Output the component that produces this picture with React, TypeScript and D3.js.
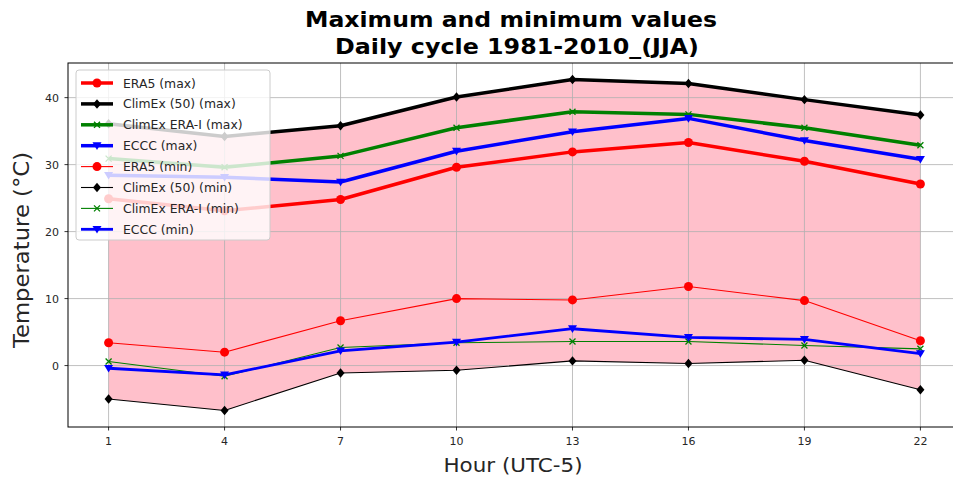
import React from "react";
import * as d3 from "d3";

const hours = [1, 4, 7, 10, 13, 16, 19, 22];
const era5Max = [24.9, 23.1, 24.8, 29.6, 31.9, 33.3, 30.5, 27.1];
const climexMax = [36.1, 34.2, 35.8, 40.1, 42.7, 42.1, 39.7, 37.4];
const eraIMax = [30.9, 29.6, 31.3, 35.5, 37.9, 37.5, 35.5, 32.9];
const ecccMax = [28.4, 28.1, 27.4, 32.0, 34.9, 36.9, 33.6, 30.8];
const era5Min = [3.4, 2.0, 6.7, 10.0, 9.8, 11.8, 9.7, 3.7];
const climexMin = [-5.0, -6.7, -1.1, -0.7, 0.7, 0.3, 0.8, -3.6];
const eraIMin = [0.6, -1.6, 2.7, 3.4, 3.6, 3.6, 3.0, 2.5];
const ecccMin = [-0.4, -1.4, 2.2, 3.5, 5.5, 4.2, 3.9, 1.8];
const xTicks = [1, 4, 7, 10, 13, 16, 19, 22];
const yTicks = [0, 10, 20, 30, 40];

type Series = { name: string; values: number[]; color: string; width: number; marker: string; msize: number };

const series: Series[] = [
  { name: "ERA5 (max)", values: era5Max, color: "#ff0000", width: 3.5, marker: "o", msize: 9 },
  { name: "ClimEx (50) (max)", values: climexMax, color: "#000000", width: 3.5, marker: "D", msize: 9 },
  { name: "ClimEx ERA-I (max)", values: eraIMax, color: "#008000", width: 3.5, marker: "x", msize: 8 },
  { name: "ECCC (max)", values: ecccMax, color: "#0000ff", width: 3.5, marker: "v", msize: 9 },
  { name: "ERA5 (min)", values: era5Min, color: "#ff0000", width: 1.1, marker: "o", msize: 9 },
  { name: "ClimEx (50) (min)", values: climexMin, color: "#000000", width: 1.1, marker: "D", msize: 9 },
  { name: "ClimEx ERA-I (min)", values: eraIMin, color: "#008000", width: 1.1, marker: "x", msize: 8 },
  { name: "ECCC (min)", values: ecccMin, color: "#0000ff", width: 2.8, marker: "v", msize: 9 },
];

function Marker({ x, y, s }: { x: number; y: number; s: Series }) {
  const r = s.msize / 2;
  if (s.marker === "o") return <circle cx={x} cy={y} r={r} fill={s.color} />;
  if (s.marker === "D") {
    const d = r * 1.05;
    return <path d={`M${x},${y - d}L${x + d * 0.85},${y}L${x},${y + d}L${x - d * 0.85},${y}Z`} fill={s.color} />;
  }
  if (s.marker === "x") {
    const d = r * 0.75;
    return (
      <path d={`M${x - d},${y - d}L${x + d},${y + d}M${x - d},${y + d}L${x + d},${y - d}`} stroke={s.color} strokeWidth={1.3} fill="none" />
    );
  }
  return <path d={`M${x - r},${y - r * 0.75}L${x + r},${y - r * 0.75}L${x},${y + r * 0.95}Z`} fill={s.color} />;
}

export default function App() {
  const W = 953, H = 480;
  const left = 68, right = 961, top = 63, bottom = 427;
  const x = d3.scaleLinear().domain([-0.05, 23.05]).range([left, right]);
  const y = d3.scaleLinear().domain([-9.17, 45.17]).range([bottom, top]);
  const line = d3.line<number>().x((_, i) => x(hours[i])).y((v) => y(v));
  const area = d3
    .area<number>()
    .x((_, i) => x(hours[i]))
    .y0((_, i) => y(climexMin[i]))
    .y1((v) => y(v));
  const font = "DejaVu Sans, sans-serif";
  const legX = 76, legY = 70, rowH = 20.9;
  return (
    <svg width={W} height={H} style={{ position: "absolute", left: 0, top: 0 }} fontFamily={font}>
      <rect width={W} height={H} fill="#fff" />
      <defs>
        <clipPath id="clip">
          <rect x={left} y={top} width={right - left} height={bottom - top} />
        </clipPath>
      </defs>
      <path d={area(climexMax) || ""} fill="#ffc0cb" />
      <g stroke="#b0b0b0" strokeWidth={0.8}>
        {xTicks.map((t) => (
          <line key={"gx" + t} x1={x(t)} x2={x(t)} y1={top} y2={bottom} />
        ))}
        {yTicks.map((t) => (
          <line key={"gy" + t} x1={left} x2={right} y1={y(t)} y2={y(t)} />
        ))}
      </g>
      <g clipPath="url(#clip)">
        {series.map((s) => (
          <g key={s.name}>
            <path d={line(s.values) || ""} fill="none" stroke={s.color} strokeWidth={s.width} strokeLinejoin="round" />
            {s.values.map((v, i) => (
              <Marker key={i} x={x(hours[i])} y={y(v)} s={s} />
            ))}
          </g>
        ))}
      </g>
      <rect x={left} y={top} width={right - left} height={bottom - top} fill="none" stroke="#000" strokeWidth={1} />
      {xTicks.map((t) => (
        <g key={"xt" + t}>
          <line x1={x(t)} x2={x(t)} y1={bottom} y2={bottom + 3.5} stroke="#000" strokeWidth={0.8} />
          <text x={x(t)} y={bottom + 18} textAnchor="middle" fontSize={11} fill="#262626">{t}</text>
        </g>
      ))}
      {yTicks.map((t) => (
        <g key={"yt" + t}>
          <line x1={left - 3.5} x2={left} y1={y(t)} y2={y(t)} stroke="#000" strokeWidth={0.8} />
          <text x={left - 9} y={y(t) + 4} textAnchor="end" fontSize={11} fill="#262626">{t}</text>
        </g>
      ))}
      <text x={513} y={472} textAnchor="middle" fontSize={20} textLength={139} lengthAdjust="spacingAndGlyphs" fill="#262626">
        Hour (UTC-5)
      </text>
      <text
        transform={`translate(29,250) rotate(-90)`}
        textAnchor="middle"
        fontSize={21}
        textLength={196}
        lengthAdjust="spacingAndGlyphs"
        fill="#262626"
      >
        Temperature (°C)
      </text>
      <text x={511} y={27} textAnchor="middle" fontSize={22} fontWeight="bold" textLength={412} lengthAdjust="spacingAndGlyphs" fill="#000">
        Maximum and minimum values
      </text>
      <text x={517} y={54} textAnchor="middle" fontSize={22} fontWeight="bold" textLength={364} lengthAdjust="spacingAndGlyphs" fill="#000">
        Daily cycle 1981-2010_(JJA)
      </text>
      <g>
        <rect x={legX} y={legY} width={194} height={170} rx={3} fill="#fff" fillOpacity={0.8} stroke="#cccccc" strokeWidth={1} />
        {series.map((s, i) => {
          const cy = legY + 13 + i * rowH;
          return (
            <g key={"lg" + s.name}>
              <line x1={legX + 5} x2={legX + 37} y1={cy} y2={cy} stroke={s.color} strokeWidth={s.width} />
              <Marker x={legX + 21} y={cy} s={s} />
              <text x={legX + 47} y={cy + 4.5} fontSize={12.4} fill="#262626">{s.name}</text>
            </g>
          );
        })}
      </g>
    </svg>
  );
}
